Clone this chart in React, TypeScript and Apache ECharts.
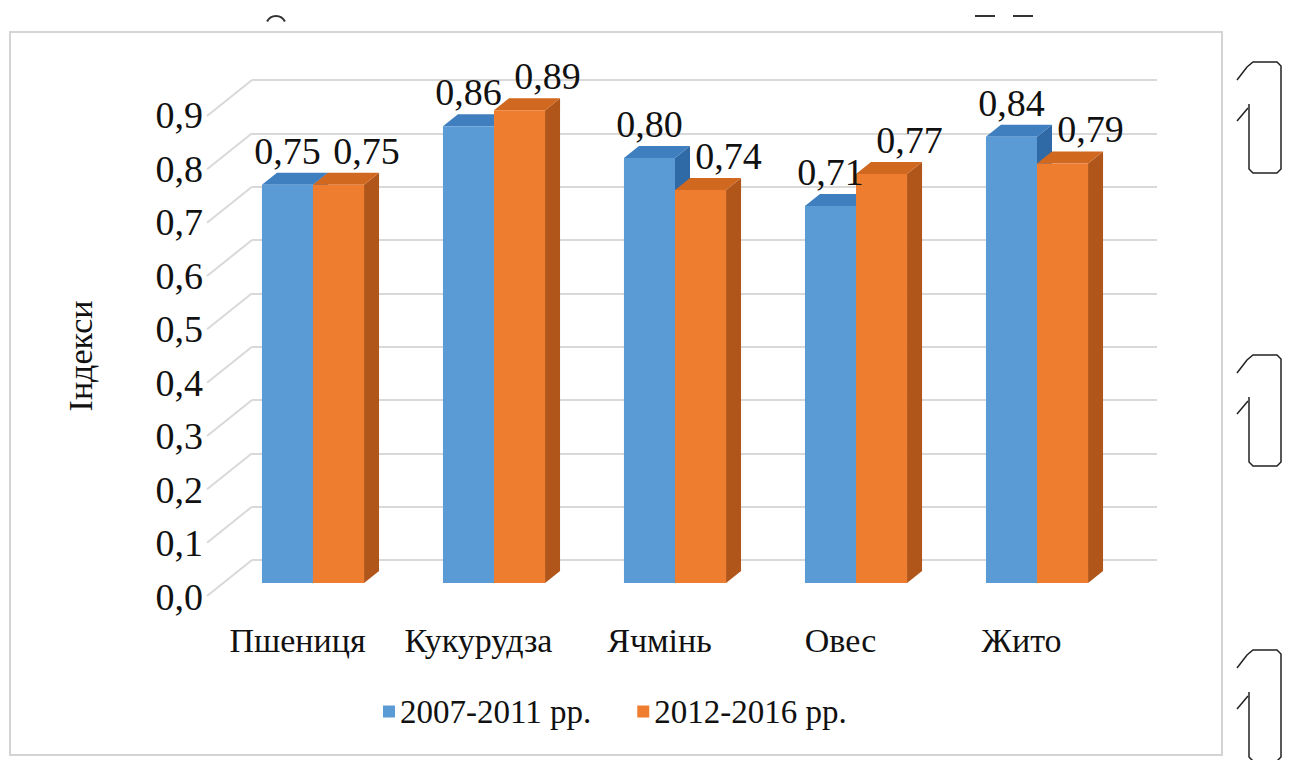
import React, { useEffect, useRef } from "react";
import * as echarts from "echarts";

const categories = ["Пшениця", "Кукурудза", "Ячмінь", "Овес", "Жито"];
const seriesNames = ["2007-2011 рр.", "2012-2016 рр."];
const values2007 = [0.75, 0.86, 0.8, 0.71, 0.84];
const values2012 = [0.75, 0.89, 0.74, 0.77, 0.79];
const yTicks = [0, 0.1, 0.2, 0.3, 0.4, 0.5, 0.6, 0.7, 0.8, 0.9];
const axisTitle = "Індекси";

const FONT = "Liberation Serif, Times New Roman, serif";
const frontColors = ["#5b9bd5", "#ef7d30"];
const topColors = ["#3f7fc0", "#d06820"];
const sideColors = ["#2f69a6", "#b1561a"];

const fmt = (v: number, d: number) => v.toFixed(d).replace(".", ",");

function barSeries(s: number, values: number[]) {
  return {
    type: "custom",
    name: seriesNames[s],
    xAxisIndex: 1,
    yAxisIndex: 1,
    itemStyle: { color: frontColors[s] },
    data: values.map((v, i) => [i, v]),
    renderItem: (params: any, api: any) => {
      const i = api.value(0);
      const v = api.value(1);
      const top = api.coord([i, v]);
      const base = api.coord([i, 0]);
      const band = api.size([1, 0])[0];
      const w = band * 0.282;
      const dx = 15;
      const dy = -12;
      const x0 = s === 0 ? top[0] - w : top[0];
      const yt = top[1];
      const yb = base[1];
      return {
        type: "group",
        children: [
          {
            type: "polygon",
            shape: { points: [[x0 + w, yt], [x0 + w + dx, yt + dy], [x0 + w + dx, yb + dy], [x0 + w, yb]] },
            style: { fill: sideColors[s] },
          },
          {
            type: "polygon",
            shape: { points: [[x0, yt], [x0 + dx, yt + dy], [x0 + w + dx, yt + dy], [x0 + w, yt]] },
            style: { fill: topColors[s] },
          },
          {
            type: "rect",
            shape: { x: x0, y: yt, width: w, height: yb - yt },
            style: { fill: frontColors[s] },
          },
          {
            type: "text",
            z2: 100,
            style: {
              text: fmt(v, 2),
              x: x0 + w / 2 + (s === 0 ? 0 : 28),
              y: yt - 34,
              align: "center",
              verticalAlign: "middle",
              fontFamily: FONT,
              fontSize: 38,
              fill: "#111",
            },
          },
        ],
      };
    },
  };
}

function scribble(oy: number) {
  const P = (pts: number[][]) => pts.map(([x, y]) => [x, y + oy]);
  return [
    {
      type: "polyline",
      shape: {
        points: P([
          [1237, 80], [1247, 67], [1253, 62], [1277, 62], [1281, 66],
          [1281, 169], [1277, 173], [1253, 173], [1249, 169], [1249, 104],
        ]),
      },
      style: { stroke: "#222", lineWidth: 1.5, fill: "none" },
    },
    {
      type: "line",
      shape: { x1: 1237, y1: 121 + oy, x2: 1248, y2: 108 + oy },
      style: { stroke: "#222", lineWidth: 1.5 },
    },
  ];
}

export default function App() {
  const ref = useRef<HTMLDivElement>(null);
  useEffect(() => {
    if (!ref.current) return;
    const chart = echarts.init(ref.current, null, { renderer: "svg" });
    const option: any = {
      animation: false,
      backgroundColor: "#ffffff",
      textStyle: { fontFamily: FONT },
      grid: [
        { left: 252, top: 80, width: 905, height: 480 },
        { left: 222.5, top: 105, width: 905, height: 478 },
        { left: 207, top: 115, width: 905, height: 482 },
      ],
      xAxis: [
        { gridIndex: 0, type: "value", min: 0, max: 1, show: false },
        { gridIndex: 1, type: "category", data: categories, show: false },
        {
          gridIndex: 2,
          type: "category",
          data: categories,
          axisLine: { show: false },
          axisTick: { show: false },
          axisLabel: {
            interval: 0,
            hideOverlap: false,
            margin: 43,
            verticalAlign: "middle",
            fontFamily: FONT,
            fontSize: 34,
            color: "#111",
          },
        },
      ],
      yAxis: [
        {
          gridIndex: 0, type: "value", min: 0, max: 0.9, interval: 0.1,
          axisLabel: { show: false }, axisLine: { show: false }, axisTick: { show: false },
          splitLine: { lineStyle: { color: "#d9d9d9", width: 2 } },
        },
        { gridIndex: 1, type: "value", min: 0, max: 0.9, show: false },
        {
          gridIndex: 2, type: "value", min: 0, max: 0.9, interval: 0.1,
          name: axisTitle, nameLocation: "middle", nameRotate: 90, nameGap: 110,
          nameTextStyle: { fontFamily: FONT, fontSize: 34, color: "#111" },
          axisLine: { show: false }, axisTick: { show: false }, splitLine: { show: false },
          axisLabel: { margin: 4, fontFamily: FONT, fontSize: 38, color: "#111", formatter: (v: number) => fmt(v, 1) },
        },
      ],
      legend: {
        data: seriesNames,
        left: 378,
        top: 690,
        icon: "rect",
        itemWidth: 12,
        itemHeight: 12,
        itemGap: 46,
        textStyle: { fontFamily: FONT, fontSize: 33, color: "#111" },
      },
      graphic: [
        {
          type: "rect",
          shape: { x: 10, y: 32, width: 1212, height: 723 },
          style: { fill: "none", stroke: "#d4d4d4", lineWidth: 2 },
          silent: true,
        },
        ...scribble(0),
        ...scribble(293),
        ...scribble(588),
        {
          type: "arc",
          shape: { cx: 276, cy: 26, r: 10, startAngle: Math.PI * 1.15, endAngle: Math.PI * 1.85 },
          style: { stroke: "#333", lineWidth: 2, fill: "none" },
        },
        { type: "line", shape: { x1: 975, y1: 16, x2: 995, y2: 16 }, style: { stroke: "#333", lineWidth: 2 } },
        { type: "line", shape: { x1: 1013, y1: 16, x2: 1033, y2: 16 }, style: { stroke: "#333", lineWidth: 2 } },
      ],
      series: [
        {
          type: "custom",
          xAxisIndex: 0,
          yAxisIndex: 0,
          silent: true,
          data: yTicks.map((v) => [0, v]),
          renderItem: (params: any, api: any) => {
            const p = api.coord([0, api.value(1)]);
            return {
              type: "line",
              shape: { x1: p[0], y1: p[1], x2: p[0] - 45, y2: p[1] + 36 },
              style: { stroke: "#d9d9d9", lineWidth: 2 },
            };
          },
        },
        barSeries(0, values2007),
        barSeries(1, values2012),
      ],
    };
    chart.setOption(option);
    return () => chart.dispose();
  }, []);
  return (
    <div ref={ref} style={{ position: "absolute", left: 0, top: 0, width: 1291, height: 760, background: "#fff" }} />
  );
}
